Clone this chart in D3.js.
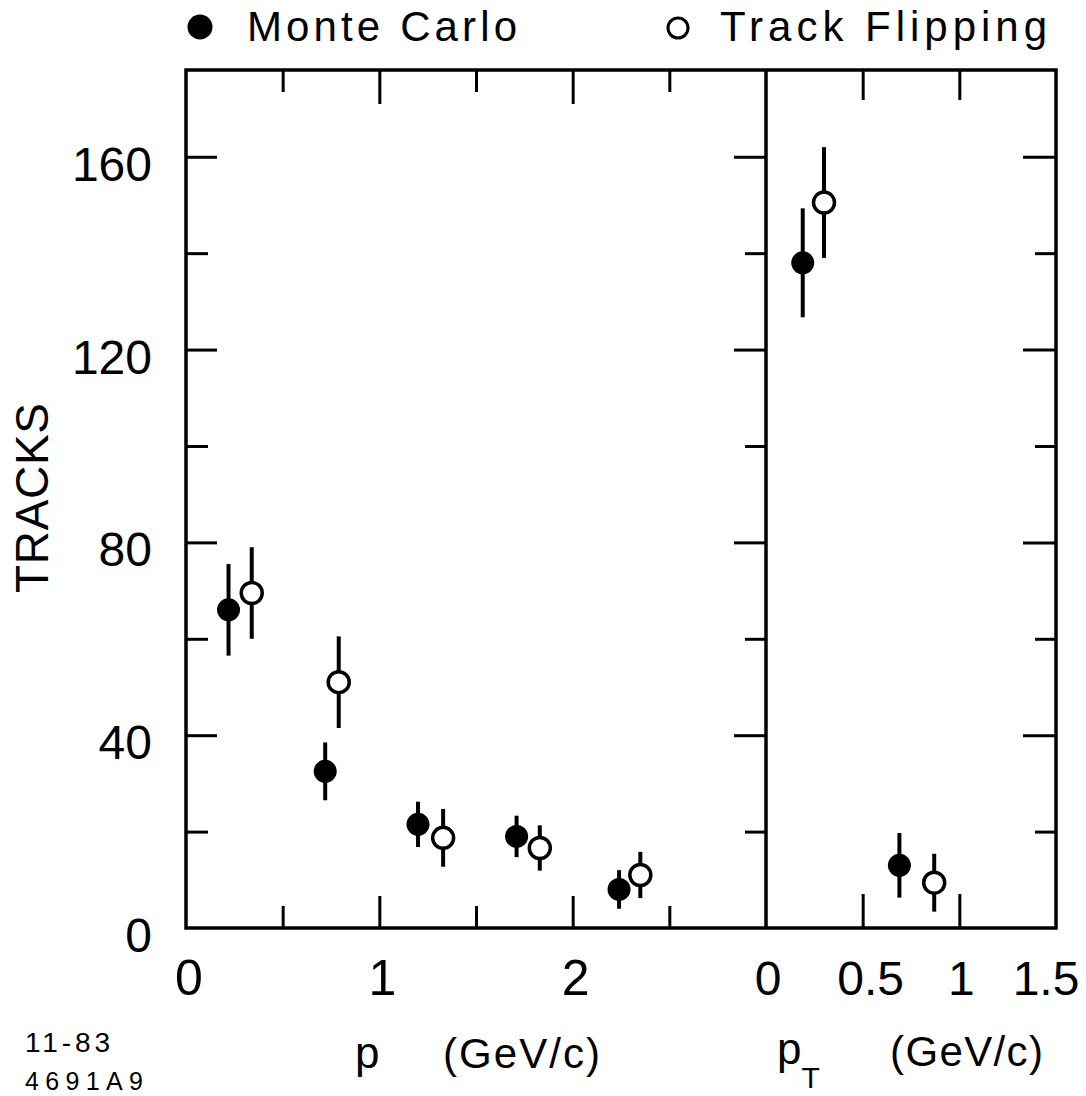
<!DOCTYPE html>
<html>
<head>
<meta charset="utf-8">
<script src="https://cdn.jsdelivr.net/npm/d3@7/dist/d3.min.js"></script>
<style>
  html, body { margin: 0; padding: 0; background: #fff; }
  svg { display: block; }
  text { font-family: "Liberation Sans", Arial, sans-serif; fill: #000; }
</style>
</head>
<body>
<div id="chart"></div>
<script>
// ---- data ----
// left panel: momentum p (GeV/c)
var mcP        = [0.22, 0.72, 1.20, 1.71, 2.24];
var mcTracks   = [66, 32.5, 21.5, 19, 8];
var mcErr      = [9.5, 6, 4.7, 4.3, 4];
var tfP        = [0.34, 0.79, 1.33, 1.83, 2.35];
var tfTracks   = [69.5, 51, 18.7, 16.6, 11];
var tfErr      = [9.5, 9.5, 6, 4.7, 4.8];
// right panel: transverse momentum pT (GeV/c)
var mcPt       = [0.19, 0.69];
var mcPtTracks = [138, 13];
var mcPtErr    = [11.3, 6.7];
var tfPt       = [0.30, 0.87];
var tfPtTracks = [150.5, 9.4];
var tfPtErr    = [11.5, 6];
// tick labels
var yLabels     = [0, 40, 80, 120, 160];
var pLabels     = [0, 1, 2];
var ptLabels    = [0, 0.5, 1, 1.5];

(function() {
  'use strict';

  var W = 1086, H = 1096;
  var svg = d3.select("#chart").append("svg")
    .attr("width", W).attr("height", H);
  svg.append("rect").attr("width", W).attr("height", H).attr("fill", "#fff");

  var top = 70, bottom = 928;
  var xL0 = 186, xMid = 766, xR1 = 1056;

  var y  = d3.scaleLinear().domain([0, 178]).range([bottom, top]);
  var xp = d3.scaleLinear().domain([0, 3]).range([xL0, xMid]);
  var xt = d3.scaleLinear().domain([0, 1.5]).range([xMid, xR1]);

  var yMajor = [40, 80, 120, 160], yMinor = [20, 60, 100, 140];

  // draw a set of ticks with a d3 axis, no domain line, no labels
  function ticks(axisFn, scale, values, size, tx, ty) {
    var g = svg.append("g")
      .attr("transform", "translate(" + tx + "," + ty + ")")
      .call(axisFn(scale).tickValues(values).tickSize(size).tickFormat(""));
    g.select(".domain").remove();
    g.selectAll(".tick line").attr("stroke", "#000").attr("stroke-width", 3);
    return g;
  }

  // left frame: ticks point inward (right)
  ticks(d3.axisRight, y, yMajor, 31, xL0, 0);
  ticks(d3.axisRight, y, yMinor, 22, xL0, 0);
  // divider: ticks point left into p panel
  ticks(d3.axisLeft, y, yMajor, 32, xMid, 0);
  ticks(d3.axisLeft, y, yMinor, 21, xMid, 0);
  // right frame
  ticks(d3.axisLeft, y, yMajor, 33, xR1, 0);
  ticks(d3.axisLeft, y, yMinor, 21, xR1, 0);

  // x ticks, bottom pointing up, top pointing down
  ticks(d3.axisTop, xp, [1, 2], 32, 0, bottom);
  ticks(d3.axisTop, xp, [0.5, 1.5, 2.5], 22, 0, bottom);
  ticks(d3.axisBottom, xp, [1, 2], 34, 0, top);
  ticks(d3.axisBottom, xp, [0.5, 1.5, 2.5], 22, 0, top);
  ticks(d3.axisTop, xt, [0.5, 1], 34, 0, bottom);
  ticks(d3.axisBottom, xt, [0.5, 1], 30, 0, top);

  // frame
  svg.append("rect")
    .attr("x", xL0).attr("y", top)
    .attr("width", xR1 - xL0).attr("height", bottom - top)
    .attr("fill", "none").attr("stroke", "#000").attr("stroke-width", 3.5);
  svg.append("line")
    .attr("x1", xMid).attr("x2", xMid).attr("y1", top).attr("y2", bottom)
    .attr("stroke", "#000").attr("stroke-width", 3.5);

  // tick labels
  svg.selectAll("text.ylab").data(yLabels).join("text")
    .attr("class", "ylab")
    .attr("x", 152).attr("y", function(d) { return y(d) + 24; })
    .attr("text-anchor", "end")
    .style("font-size", "48px")
    .text(function(d) { return d; });

  svg.selectAll("text.plab").data(pLabels).join("text")
    .attr("class", "plab")
    .attr("x", function(d) { return xp(d) + 3; }).attr("y", 995)
    .attr("text-anchor", "middle")
    .style("font-size", "50px")
    .text(function(d) { return d; });

  // small nudges so the pT labels sit like the original lettering
  var ptShift = { 0: 2, 0.5: 8, 1: 2, 1.5: -10 };
  svg.selectAll("text.ptlab").data(ptLabels).join("text")
    .attr("class", "ptlab")
    .attr("x", function(d) { return xt(d) + ptShift[d]; })
    .attr("y", 995)
    .attr("text-anchor", "middle")
    .style("font-size", "48px")
    .text(function(d) { return d; });

  // points with vertical error bars
  function series(xs, scale, vals, errs, filled) {
    var pts = xs.map(function(v, i) { return { x: v, v: vals[i], e: errs[i] }; });
    var g = svg.append("g");
    g.selectAll("line").data(pts).join("line")
      .attr("x1", function(d) { return scale(d.x); })
      .attr("x2", function(d) { return scale(d.x); })
      .attr("y1", function(d) { return y(d.v + d.e); })
      .attr("y2", function(d) { return y(d.v - d.e); })
      .attr("stroke", "#000").attr("stroke-width", 4);
    g.selectAll("circle").data(pts).join("circle")
      .attr("cx", function(d) { return scale(d.x); })
      .attr("cy", function(d) { return y(d.v); })
      .attr("r", filled ? 11.5 : 10.5)
      .attr("fill", filled ? "#000" : "#fff")
      .attr("stroke", "#000").attr("stroke-width", filled ? 0 : 3.5);
  }
  series(mcP, xp, mcTracks, mcErr, true);
  series(tfP, xp, tfTracks, tfErr, false);
  series(mcPt, xt, mcPtTracks, mcPtErr, true);
  series(tfPt, xt, tfPtTracks, tfPtErr, false);

  // legend
  svg.append("circle").attr("cx", 200).attr("cy", 27).attr("r", 12.5).attr("fill", "#000");
  svg.append("text").attr("x", 247).attr("y", 41)
    .attr("textLength", 270).style("font-size", "42px").text("Monte Carlo");
  svg.append("circle").attr("cx", 678).attr("cy", 28).attr("r", 10)
    .attr("fill", "#fff").attr("stroke", "#000").attr("stroke-width", 3);
  svg.append("text").attr("x", 720).attr("y", 41)
    .attr("textLength", 327).style("font-size", "42px").text("Track Flipping");

  // axis titles
  svg.append("text")
    .attr("transform", "translate(48,498) rotate(-90)")
    .attr("text-anchor", "middle")
    .attr("textLength", 190)
    .style("font-size", "46px").text("TRACKS");

  svg.append("text").attr("x", 355).attr("y", 1068)
    .style("font-size", "44px").text("p");
  svg.append("text").attr("x", 443).attr("y", 1068)
    .attr("textLength", 157).style("font-size", "42px").text("(GeV/c)");

  var pt = svg.append("text").attr("x", 777).attr("y", 1064).style("font-size", "44px");
  pt.append("tspan").text("p");
  pt.append("tspan").attr("dy", 24).style("font-size", "30px").text("T");
  svg.append("text").attr("x", 890).attr("y", 1066)
    .attr("textLength", 153).style("font-size", "42px").text("(GeV/c)");

  // plate id
  svg.append("text").attr("x", 25).attr("y", 1052)
    .attr("textLength", 85).style("font-size", "28px").text("11-83");
  svg.append("text").attr("x", 25).attr("y", 1090)
    .attr("textLength", 118).style("font-size", "25px").text("4691A9");
})();
</script>
</body>
</html>
